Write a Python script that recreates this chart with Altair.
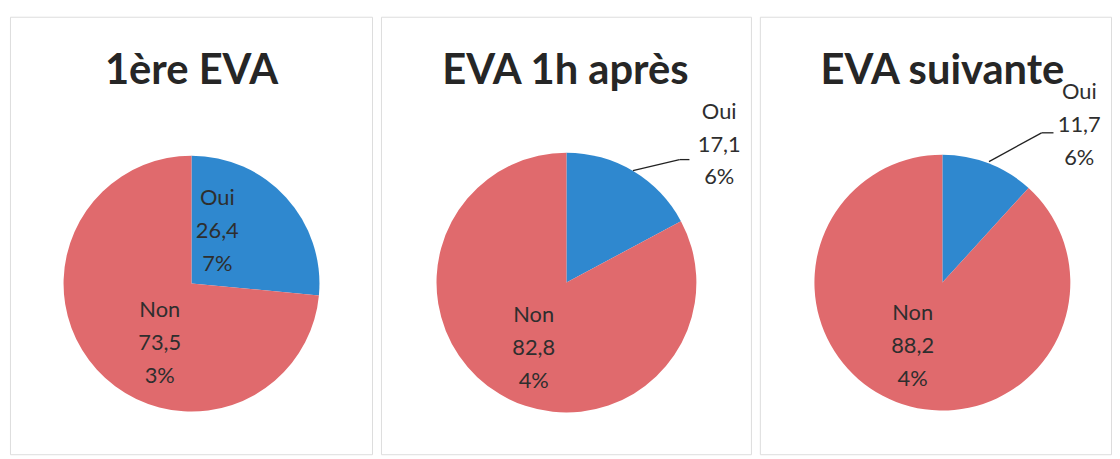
import altair as alt
import pandas as pd

# ---- data ----
panels = ["1ère EVA", "EVA 1h après", "EVA suivante"]
categories = ["Oui", "Non"]
oui_pct = [26.47, 17.16, 11.76]
non_pct = [73.53, 82.84, 88.24]

BLUE = "#2f88cf"
RED = "#e06a6d"

rows = []
for p, o, n in zip(panels, oui_pct, non_pct):
    for i, (cat, v) in enumerate(zip(categories, [o, n])):
        s = f"{v:.2f}".replace(".", ",")
        # Excel-like wrapping of "26,47%" over lines
        label = f"{cat}\n{s[:-1]}\n{s[-1]}%"
        rows.append({"panel": p, "cat": cat, "value": v, "ord": i, "label": label})
df = pd.DataFrame(rows)

# ---- layout (pixels inside each panel) ----
widths = [365, 373, 354]
H = 441
layout = [
    {"c": (183, 269), "r": 129, "oui": (209, 183), "non": (151, 296), "title": (183, 68), "lead": None},
    {"c": (187, 268), "r": 131, "oui": (341, 96), "non": (154, 301), "title": (186, 68),
     "lead": [(254, 155, 301, 144), (301, 144, 311, 144)]},
    {"c": (184, 268), "r": 129, "oui": (322, 76), "non": (154, 299), "title": (184, 68),
     "lead": [(231, 146, 284, 117), (284, 117, 296, 117)]},
]

FONT = "Lato"
color = alt.Color("cat:N", scale=alt.Scale(domain=categories, range=[BLUE, RED]), legend=None)

charts = []
for p, w, L in zip(panels, widths, layout):
    base = alt.Chart(df).transform_filter(alt.datum.panel == p)
    cx, cy = L["c"]
    arc = base.mark_arc(outerRadius=L["r"]).encode(
        theta=alt.Theta("value:Q", stack=True),
        order=alt.Order("ord:Q"),
        color=color,
        x=alt.value(cx),
        y=alt.value(cy),
    )
    layers = [arc]
    for cat, key in [("Oui", "oui"), ("Non", "non")]:
        lx, ly = L[key]
        t = base.transform_filter(alt.datum.cat == cat).mark_text(
            lineBreak="\n", lineHeight=33, fontSize=22, font=FONT,
            color="#2e2e2e", align="center", baseline="middle",
        ).encode(text="label:N", x=alt.value(lx), y=alt.value(ly))
        layers.append(t)
    if L["lead"]:
        for (x1, y1, x2, y2) in L["lead"]:
            layers.append(
                base.transform_filter(alt.datum.cat == "Oui").mark_rule(
                    color="#222222", strokeWidth=1.3
                ).encode(x=alt.value(x1), y=alt.value(y1), x2=alt.value(x2), y2=alt.value(y2))
            )
    tx, ty = L["title"]
    title = base.transform_filter(alt.datum.cat == "Oui").mark_text(
        fontSize=42, fontWeight="bold", font=FONT, color="#262626",
        align="center", baseline="alphabetic",
    ).encode(text="panel:N", x=alt.value(tx), y=alt.value(ty))
    layers.append(title)
    charts.append(alt.layer(*layers).properties(width=w, height=H))

chart = alt.hconcat(*charts, spacing=7).properties(
    padding={"left": 1, "top": 6, "right": 0, "bottom": 0}
).configure_view(
    stroke="#8fb4cb", strokeWidth=1.2
).configure(background="white")

chart.save("out.html", embed_options={"renderer": "svg", "actions": False})
